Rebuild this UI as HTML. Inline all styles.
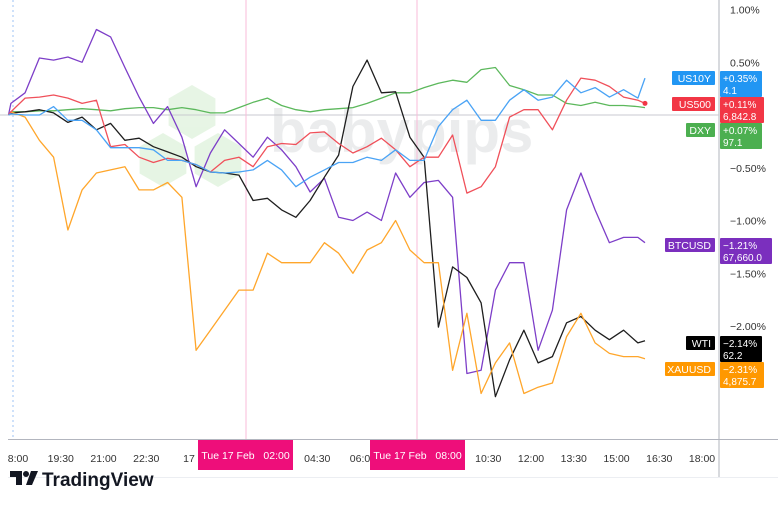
<!DOCTYPE html>
<html><head><meta charset="utf-8"><style>
body{margin:0;background:#fff;font-family:"Liberation Sans",sans-serif}
#wrap{position:relative;width:780px;height:506px;overflow:hidden}
svg text{font-family:"Liberation Sans",sans-serif}
</style></head><body>
<div id="wrap">
<svg id="chart" width="780" height="506"></svg>
</div>
<script>
const times=["17:40","17:45","18:15","18:45","19:15","19:45","20:15","20:45","21:15","21:45","22:15","22:45","23:15","23:45","00:15","00:45","01:15","01:45","02:15","02:45","03:15","03:45","04:15","04:45","05:15","05:45","06:15","06:45","07:15","07:45","08:15","08:45","09:15","09:45","10:15","10:45","11:15","11:45","12:15","12:45","13:15","13:45","14:15","14:45","15:15","15:45","16:00"];
const us10y=[0,0.01,0,0,0.08,-0.05,-0.05,-0.14,-0.31,-0.31,-0.31,-0.33,-0.43,-0.43,-0.47,-0.54,-0.55,-0.54,-0.52,-0.43,-0.52,-0.68,-0.59,-0.52,-0.45,-0.45,-0.40,-0.43,-0.33,-0.43,-0.43,-0.11,0.05,0.14,-0.05,-0.05,0.14,0.24,0.14,0.17,0.33,0.21,0.26,0.17,0.24,0.16,0.35];
const us500=[0,0.03,0.16,0.17,0.19,0.16,0.11,0.14,-0.30,-0.28,-0.40,-0.45,-0.41,-0.43,-0.47,-0.54,-0.43,-0.40,-0.49,-0.30,-0.27,-0.28,-0.17,-0.16,-0.27,-0.36,-0.30,-0.22,-0.33,-0.49,-0.40,-0.40,-0.19,-0.74,-0.68,-0.49,-0.02,0.05,0.05,-0.14,0.14,0.35,0.33,0.27,0.17,0.14,0.11];
const dxy=[0,0.03,0.03,0.04,0.04,0.05,0.06,0.05,0.04,0.06,0.07,0.07,0.05,0.07,0.05,0.02,0.02,0.07,0.12,0.16,0.09,0.05,0.03,0.05,0.06,0.07,0.11,0.16,0.21,0.21,0.26,0.30,0.33,0.31,0.43,0.45,0.28,0.24,0.19,0.19,0.11,0.09,0.12,0.09,0.09,0.08,0.07];
const btcusd=[0,0.11,0.21,0.54,0.52,0.55,0.50,0.81,0.74,0.45,0.17,-0.08,0.08,-0.21,-0.68,-0.36,-0.14,-0.27,-0.40,-0.21,-0.33,-0.49,-0.73,-0.60,-0.97,-1.00,-0.92,-1.00,-0.55,-0.78,-0.64,-0.62,-0.78,-2.45,-2.42,-1.66,-1.40,-1.40,-2.23,-1.85,-0.90,-0.55,-0.90,-1.21,-1.16,-1.16,-1.21];
const wti=[0,0.02,0.03,0.05,0.02,-0.07,-0.02,-0.14,-0.08,-0.24,-0.22,-0.30,-0.35,-0.40,-0.49,-0.54,-0.55,-0.57,-0.81,-0.79,-0.90,-0.97,-0.81,-0.59,-0.38,0.27,0.52,0.21,0.22,-0.21,-0.40,-2.01,-1.44,-1.54,-1.78,-2.67,-2.32,-2.04,-2.35,-2.29,-1.97,-1.91,-2.04,-2.13,-2.04,-2.16,-2.14];
const xauusd=[0,0.03,-0.02,-0.24,-0.40,-1.09,-0.71,-0.55,-0.52,-0.49,-0.71,-0.71,-0.64,-0.78,-2.23,-2.04,-1.85,-1.66,-1.66,-1.31,-1.40,-1.40,-1.40,-1.21,-1.31,-1.50,-1.28,-1.21,-1.00,-1.28,-1.40,-1.40,-2.42,-1.88,-2.64,-2.35,-2.16,-2.64,-2.58,-2.54,-2.10,-1.88,-2.16,-2.26,-2.29,-2.29,-2.31];
const yTicks=[1.0,0.5,-0.5,-1.0,-1.5,-2.0];
const yTickLabels=["1.00%","0.50%","\u22120.50%","\u22121.00%","\u22121.50%","\u22122.00%"];
const xTickTimes=["18:00","19:30","21:00","22:30","00:00","04:30","06:00","10:30","12:00","13:30","15:00","16:30","18:00+"];
const xTickLabels=["8:00","19:30","21:00","22:30","17","04:30","06:0","10:30","12:00","13:30","15:00","16:30","18:00"];
const seriesNames=["US10Y","US500","DXY","BTCUSD","WTI","XAUUSD"];
const seriesLast=["4.1","6,842.8","97.1","67,660.0","62.2","4,875.7"];

const NS="http://www.w3.org/2000/svg";
const svg=document.getElementById('chart');
function hrs(t){let p=t.replace('+','').split(':');let h=+p[0]+(+p[1])/60;if(h<17||t.endsWith('+'))h+=24;return h;}
function xS(t){return 18+(hrs(t)-18)*28.5;}
function yS(v){return 115-v*105.5;}
function mk(tag,attrs,parent){const e=document.createElementNS(NS,tag);for(const k in attrs)e.setAttribute(k,attrs[k]);(parent||svg).appendChild(e);return e;}
function fmt(v){return (v>=0?'+':'\u2212')+Math.abs(v).toFixed(2)+'%';}

let e;
e=mk('line',{x1:719,y1:0,x2:719,y2:477,stroke:'#b2b5be','stroke-width':1});

e=mk('line',{x1:8,y1:439.5,x2:778,y2:439.5,stroke:'#b2b5be','stroke-width':1});

e=mk('line',{x1:8,y1:477.5,x2:778,y2:477.5,stroke:'#eceef2','stroke-width':1});

e=mk('line',{x1:13,y1:0,x2:13,y2:439,stroke:'#9ec3f5','stroke-width':1,'stroke-dasharray':'2,3'});


const wm=mk('g',{opacity:0.5});

[[192,112],[163,160],[218,160]].forEach(([cx,cy])=>{
  let pts=[];for(let i=0;i<6;i++){const a=Math.PI/3*i+Math.PI/6;pts.push((cx+27*Math.cos(a)).toFixed(1)+','+(cy+27*Math.sin(a)).toFixed(1));}
  mk('polygon',{points:pts.join(' '),fill:'#cfeccb'},wm);
});
const wt=mk('text',{x:270,y:152,'font-size':60,'font-weight':'bold',fill:'#d9dadd'},wm);wt.textContent='babypips';

e=mk('line',{x1:0,y1:yS(0),x2:719,y2:yS(0),stroke:'#c8cad0','stroke-width':1});


[246,417].forEach((x,i)=>{e=mk('line',{x1:x,y1:0,x2:x,y2:439,stroke:'#f8bbd9','stroke-width':1});
});

yTicks.forEach((v,i)=>{const t=mk('text',{x:730,y:yS(v)+4,'font-size':10.5,fill:'#333'});t.textContent=yTickLabels[i];
});

xTickTimes.forEach((tt,i)=>{const t=mk('text',{x:xS(tt),y:462,'font-size':10.5,fill:'#333','text-anchor':'middle'});t.textContent=xTickLabels[i];
});

[[198,'Tue 17 Feb   02:00'],[370,'Tue 17 Feb   08:00']].forEach(([x,s],i)=>{
  const g=mk('g',{});
  mk('rect',{x:x,y:440,width:95,height:30,fill:'#ee0e7a'},g);
  const t=mk('text',{x:x+47.5,y:459,'font-size':10.5,fill:'#fff','text-anchor':'middle','xml:space':'preserve'},g);t.textContent=s;t.style.whiteSpace='pre';
});

const data=[us10y,us500,dxy,btcusd,wti,xauusd];
const colors=['#4aa3f5','#f0505a','#5cb85c','#7d3ec8','#1e1e1e','#ffa62b'];
const order=[2,3,4,5,1,0];
order.forEach(si=>{
  const d=data[si].map((v,i)=>(i?'L':'M')+xS(times[i]).toFixed(1)+','+yS(v).toFixed(1)).join(' ');
  const p=mk('path',{d:d,fill:'none',stroke:colors[si],'stroke-width':1.3,'stroke-linejoin':'round'});
  
  
});
const last=times.length-1;
e=mk('circle',{cx:xS(times[last]),cy:yS(us500[last]),r:2.5,fill:'#f23645'});


const badgeColors=['#2196f3','#f23645','#4caf50','#7b2fbe','#000000','#ff9800'];
const badgeTop=[71,97,123,238,336,362];
seriesNames.forEach((n,i)=>{
  const v=data[i][data[i].length-1];
  const g=mk('g',{});
  const lw=n.length*7+8;
  mk('rect',{x:715-lw,y:badgeTop[i],width:lw,height:14,fill:badgeColors[i],rx:1},g);
  const lt=mk('text',{x:711,y:badgeTop[i]+11,'font-size':10.5,fill:'#fff','text-anchor':'end'},g);lt.textContent=n;
  const vw=i==3?52:i==1||i==5?44:42;
  mk('rect',{x:720,y:badgeTop[i],width:vw,height:26,fill:badgeColors[i],rx:1},g);
  const t1=mk('text',{x:723,y:badgeTop[i]+11,'font-size':10,fill:'#fff'},g);t1.textContent=fmt(v);
  const t2=mk('text',{x:723,y:badgeTop[i]+23,'font-size':10,fill:'#fff'},g);t2.textContent=seriesLast[i];
});

const lg=mk('g',{});
mk('path',{d:'M10 471 h12 v14 h-6 v-8 h-6 z',fill:'#131722'},lg);
mk('circle',{cx:26,cy:474,r:3,fill:'#131722'},lg);
mk('path',{d:'M31 471 h7 l-6 14 h-6 z',fill:'#131722'},lg);
const tv=mk('text',{x:42,y:486,'font-size':19,'font-weight':'bold',fill:'#131722'},lg);tv.textContent='TradingView';
</script>
</body></html>
